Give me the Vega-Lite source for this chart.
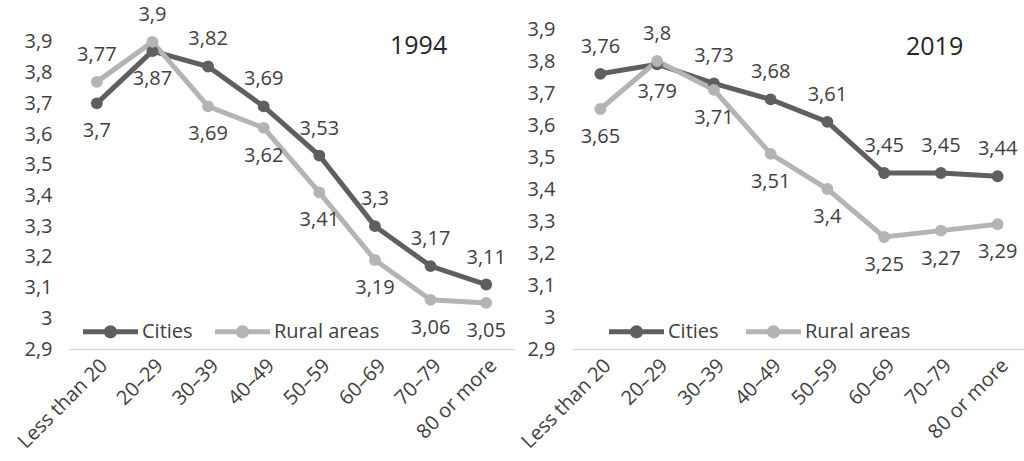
{
  "$schema": "https://vega.github.io/schema/vega-lite/v6.json",
  "background": "white",
  "padding": {"left": 14, "top": 4, "right": 0, "bottom": 0},
  "bounds": "flush",
  "spacing": 58,
  "config": {
    "locale": {"number": {"decimal": ",", "thousands": " ", "grouping": [3], "currency": ["", ""]}},
    "view": {"stroke": null},
    "font": "Open Sans",
    "text": {"font": "Open Sans"}
  },
  "datasets": {
    "d": [
      {"year": "1994", "age": "Less than 20", "area": "Cities", "value": 3.7},
      {"year": "1994", "age": "20–29", "area": "Cities", "value": 3.87},
      {"year": "1994", "age": "30–39", "area": "Cities", "value": 3.82},
      {"year": "1994", "age": "40–49", "area": "Cities", "value": 3.69},
      {"year": "1994", "age": "50–59", "area": "Cities", "value": 3.53},
      {"year": "1994", "age": "60–69", "area": "Cities", "value": 3.3},
      {"year": "1994", "age": "70–79", "area": "Cities", "value": 3.17},
      {"year": "1994", "age": "80 or more", "area": "Cities", "value": 3.11},
      {"year": "1994", "age": "Less than 20", "area": "Rural areas", "value": 3.77},
      {"year": "1994", "age": "20–29", "area": "Rural areas", "value": 3.9},
      {"year": "1994", "age": "30–39", "area": "Rural areas", "value": 3.69},
      {"year": "1994", "age": "40–49", "area": "Rural areas", "value": 3.62},
      {"year": "1994", "age": "50–59", "area": "Rural areas", "value": 3.41},
      {"year": "1994", "age": "60–69", "area": "Rural areas", "value": 3.19},
      {"year": "1994", "age": "70–79", "area": "Rural areas", "value": 3.06},
      {"year": "1994", "age": "80 or more", "area": "Rural areas", "value": 3.05},
      {"year": "2019", "age": "Less than 20", "area": "Cities", "value": 3.76},
      {"year": "2019", "age": "20–29", "area": "Cities", "value": 3.79},
      {"year": "2019", "age": "30–39", "area": "Cities", "value": 3.73},
      {"year": "2019", "age": "40–49", "area": "Cities", "value": 3.68},
      {"year": "2019", "age": "50–59", "area": "Cities", "value": 3.61},
      {"year": "2019", "age": "60–69", "area": "Cities", "value": 3.45},
      {"year": "2019", "age": "70–79", "area": "Cities", "value": 3.45},
      {"year": "2019", "age": "80 or more", "area": "Cities", "value": 3.44},
      {"year": "2019", "age": "Less than 20", "area": "Rural areas", "value": 3.65},
      {"year": "2019", "age": "20–29", "area": "Rural areas", "value": 3.8},
      {"year": "2019", "age": "30–39", "area": "Rural areas", "value": 3.71},
      {"year": "2019", "age": "40–49", "area": "Rural areas", "value": 3.51},
      {"year": "2019", "age": "50–59", "area": "Rural areas", "value": 3.4},
      {"year": "2019", "age": "60–69", "area": "Rural areas", "value": 3.25},
      {"year": "2019", "age": "70–79", "area": "Rural areas", "value": 3.27},
      {"year": "2019", "age": "80 or more", "area": "Rural areas", "value": 3.29}
    ]
  },
  "hconcat": [
    {
      "width": 445,
      "height": 343,
      "title": {"text": "1994", "anchor": "start", "frame": "group", "orient": "top", "offset": 0, "dx": 321, "dy": 54, "fontSize": 25, "fontWeight": "normal", "color": "#262626", "font": "Open Sans"},
      "data": {"name": "d"},
      "transform": [
        {"filter": "datum.year == '1994'"},
        {"joinaggregate": [{"op": "max", "field": "value", "as": "maxv"}], "groupby": ["age"]}
      ],
      "encoding": {
        "x": {"field": "age", "type": "ordinal", "sort": ["Less than 20", "20–29", "30–39", "40–49", "50–59", "60–69", "70–79", "80 or more"], "scale": {"type": "point", "padding": 0.5},
          "axis": {"title": null, "labelAngle": -45, "labelFontSize": 20, "labelColor": "#404040", "labelFont": "Open Sans", "ticks": false, "domainColor": "#d9d9d9", "domainWidth": 1.5, "labelPadding": 6, "grid": false}},
        "y": {"field": "value", "type": "quantitative", "scale": {"domain": [2.9, 4.017], "nice": false, "zero": false},
          "axis": {"title": null, "values": [2.9, 3, 3.1, 3.2, 3.3, 3.4, 3.5, 3.6, 3.7, 3.8, 3.9], "format": ".1~f", "labelFontSize": 20, "labelColor": "#404040", "labelFont": "Open Sans", "ticks": false, "domain": false, "grid": false, "labelPadding": 17}},
        "color": {"field": "area", "type": "nominal", "scale": {"domain": ["Cities", "Rural areas"], "range": ["#5f5f5f", "#b4b4b4"]},
          "legend": {"orient": "none", "legendX": 14, "legendY": 298, "direction": "horizontal", "title": null,
            "symbolType": "M-1,-0.09L1,-0.09L1,0.09L-1,0.09Z M0.24,0A0.24,0.24 0 1,1 -0.24,0A0.24,0.24 0 1,1 0.24,0Z",
            "symbolSize": 3025, "symbolStrokeWidth": 0, "symbolOpacity": 1, "labelFontSize": 20, "labelColor": "#404040", "labelFont": "Open Sans", "columnPadding": 22, "labelOffset": 4}}
      },
      "layer": [
        {"mark": {"type": "line", "strokeWidth": 5}},
        {"mark": {"type": "point", "filled": true, "size": 140, "opacity": 1}},
        {"transform": [{"filter": "datum.value >= datum.maxv"}],
         "mark": {"type": "text", "fontSize": 20, "color": "#404040", "dy": -27, "font": "Open Sans"},
         "encoding": {"text": {"field": "value", "type": "quantitative", "format": ".2~f"}, "color": {"value": "#404040"}}},
        {"transform": [{"filter": "datum.value < datum.maxv"}],
         "mark": {"type": "text", "fontSize": 20, "color": "#404040", "dy": 28, "font": "Open Sans"},
         "encoding": {"text": {"field": "value", "type": "quantitative", "format": ".2~f"}, "color": {"value": "#404040"}}}
      ]
    },
    {
      "width": 454,
      "height": 343,
      "title": {"text": "2019", "anchor": "start", "frame": "group", "orient": "top", "offset": 0, "dx": 334, "dy": 54, "fontSize": 25, "fontWeight": "normal", "color": "#262626", "font": "Open Sans"},
      "data": {"name": "d"},
      "transform": [
        {"filter": "datum.year == '2019'"},
        {"joinaggregate": [{"op": "max", "field": "value", "as": "maxv"}], "groupby": ["age"]}
      ],
      "encoding": {
        "x": {"field": "age", "type": "ordinal", "sort": ["Less than 20", "20–29", "30–39", "40–49", "50–59", "60–69", "70–79", "80 or more"], "scale": {"type": "point", "padding": 0.5},
          "axis": {"title": null, "labelAngle": -45, "labelFontSize": 20, "labelColor": "#404040", "labelFont": "Open Sans", "ticks": false, "domainColor": "#d9d9d9", "domainWidth": 1.5, "labelPadding": 6, "grid": false}},
        "y": {"field": "value", "type": "quantitative", "scale": {"domain": [2.9, 3.972], "nice": false, "zero": false},
          "axis": {"title": null, "values": [2.9, 3, 3.1, 3.2, 3.3, 3.4, 3.5, 3.6, 3.7, 3.8, 3.9], "format": ".1~f", "labelFontSize": 20, "labelColor": "#404040", "labelFont": "Open Sans", "ticks": false, "domain": false, "grid": false, "labelPadding": 17}},
        "color": {"field": "area", "type": "nominal", "scale": {"domain": ["Cities", "Rural areas"], "range": ["#5f5f5f", "#b4b4b4"]},
          "legend": {"orient": "none", "legendX": 37, "legendY": 298, "direction": "horizontal", "title": null,
            "symbolType": "M-1,-0.09L1,-0.09L1,0.09L-1,0.09Z M0.24,0A0.24,0.24 0 1,1 -0.24,0A0.24,0.24 0 1,1 0.24,0Z",
            "symbolSize": 3025, "symbolStrokeWidth": 0, "symbolOpacity": 1, "labelFontSize": 20, "labelColor": "#404040", "labelFont": "Open Sans", "columnPadding": 27, "labelOffset": 4}}
      },
      "layer": [
        {"mark": {"type": "line", "strokeWidth": 5}},
        {"mark": {"type": "point", "filled": true, "size": 140, "opacity": 1}},
        {"transform": [{"filter": "datum.value >= datum.maxv"}],
         "mark": {"type": "text", "fontSize": 20, "color": "#404040", "dy": -27, "font": "Open Sans"},
         "encoding": {"text": {"field": "value", "type": "quantitative", "format": ".2~f"}, "color": {"value": "#404040"}}},
        {"transform": [{"filter": "datum.value < datum.maxv"}],
         "mark": {"type": "text", "fontSize": 20, "color": "#404040", "dy": 28, "font": "Open Sans"},
         "encoding": {"text": {"field": "value", "type": "quantitative", "format": ".2~f"}, "color": {"value": "#404040"}}}
      ]
    }
  ],
  "resolve": {"scale": {"y": "independent", "x": "independent", "color": "independent"}, "legend": {"color": "independent"}}
}
